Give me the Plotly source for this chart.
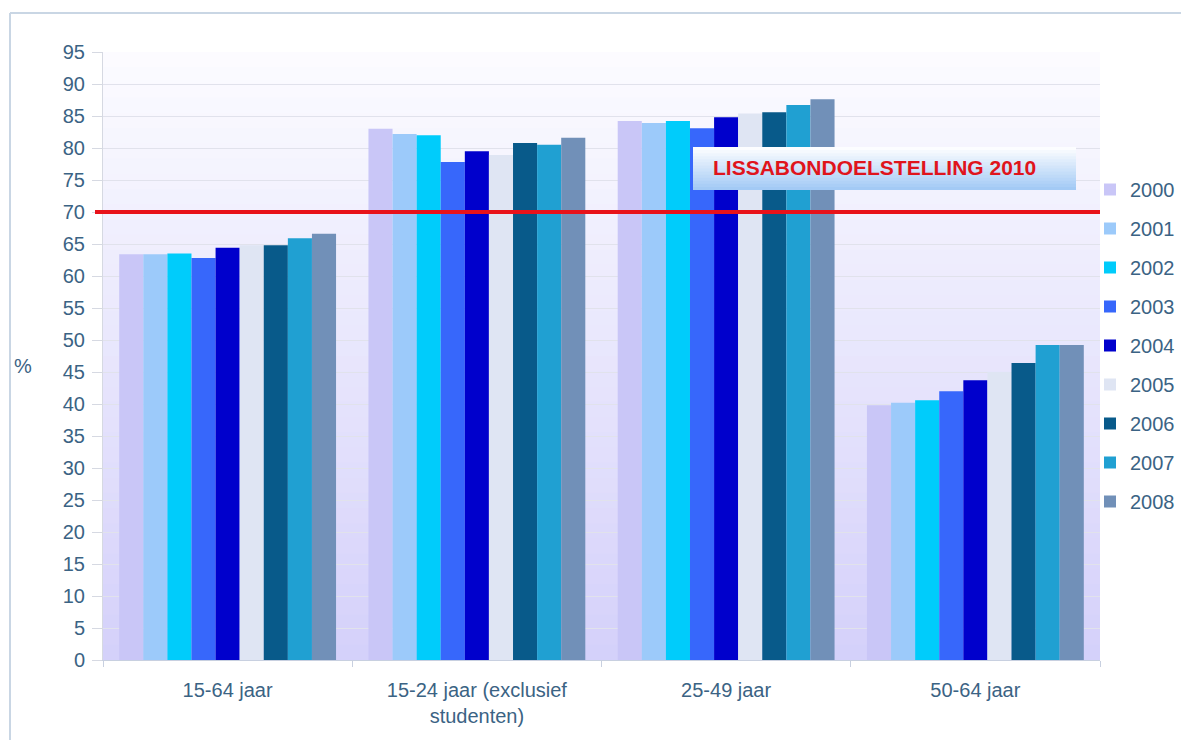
import plotly.graph_objects as go

categories = ["15-64 jaar", "15-24 jaar (exclusief<br>studenten)", "25-49 jaar", "50-64 jaar"]
years = ["2000", "2001", "2002", "2003", "2004", "2005", "2006", "2007", "2008"]
values = {
    "2000": [63.4, 83.0, 84.2, 39.8],
    "2001": [63.4, 82.2, 83.9, 40.2],
    "2002": [63.5, 82.0, 84.2, 40.6],
    "2003": [62.8, 77.8, 83.1, 42.0],
    "2004": [64.4, 79.5, 84.8, 43.7],
    "2005": [64.8, 78.9, 85.4, 45.0],
    "2006": [64.8, 80.8, 85.6, 46.4],
    "2007": [65.9, 80.5, 86.7, 49.2],
    "2008": [66.6, 81.6, 87.6, 49.2],
}
colors = ["#c9c6f7", "#9ccafa", "#00ccfb", "#3767fb", "#0000cc",
          "#dfe5f3", "#085a8a", "#20a0d2", "#7190b8"]
target = 70
target_label = "LISSABONDOELSTELLING 2010"

FONT = "Liberation Sans, Arial, sans-serif"
TXT = "#3b6384"
FS = 20

fig = go.Figure()
for i, y in enumerate(years):
    fig.add_trace(go.Bar(
        x=categories, y=values[y], name=y,
        marker=dict(color=colors[i], line=dict(width=0)),
        legendgroup=y,
    ))

W, H = 1181, 740
L, R, T, B = 103, 1100, 52, 660
def px(xp):
    return (xp - L) / (R - L)
def py(yp):
    return (B - yp) / (B - T)

shapes = []
# background gradient (white top -> lavender bottom)
n = 40
top_c = (252, 252, 255)
bot_c = (212, 208, 250)
for k in range(n):
    t = (k + 0.5) / n
    c = tuple(int(round(top_c[j] + (bot_c[j] - top_c[j]) * t)) for j in range(3))
    shapes.append(dict(type="rect", xref="paper", yref="paper",
                       x0=0, x1=1, y0=max(0, 1 - (k + 1.6) / n), y1=1 - k / n,
                       fillcolor="rgb(%d,%d,%d)" % c, line=dict(width=0), layer="below"))

# outer frame
shapes.append(dict(type="line", xref="paper", yref="paper",
                   x0=px(10), x1=px(10), y0=py(13), y1=py(745),
                   line=dict(color="#c9d6e4", width=2)))
shapes.append(dict(type="line", xref="paper", yref="paper",
                   x0=px(10), x1=px(1190), y0=py(13), y1=py(13),
                   line=dict(color="#c9d6e4", width=2)))

# target line
shapes.append(dict(type="line", xref="paper", yref="y",
                   x0=px(95), x1=1.0, y0=target, y1=target,
                   line=dict(color="#e8121a", width=4), layer="above"))

# label box with gradient
bx0, bx1, by0, by1 = 693, 1076, 147, 190
m = 14
c1 = (255, 255, 255)
c2 = (160, 200, 245)
for k in range(m):
    t = (k + 0.5) / m
    c = tuple(int(round(c1[j] + (c2[j] - c1[j]) * t)) for j in range(3))
    ya = by0 + (by1 - by0) * k / m
    yb = min(by1, by0 + (by1 - by0) * (k + 1.7) / m)
    shapes.append(dict(type="rect", xref="paper", yref="paper",
                       x0=px(bx0), x1=px(bx1), y0=py(yb), y1=py(ya),
                       fillcolor="rgb(%d,%d,%d)" % c, line=dict(width=0), layer="above"))

fig.update_layout(
    shapes=shapes,
    width=W, height=H,
    margin=dict(l=L, r=W - R, t=T, b=H - B, pad=0, autoexpand=False),
    paper_bgcolor="white",
    plot_bgcolor="rgba(0,0,0,0)",
    barmode="group", bargap=0.13, bargroupgap=0,
    font=dict(family=FONT, size=FS, color=TXT),
    legend=dict(xref="container", yref="container",
                x=1090 / W, xanchor="left", y=1 - 170 / H, yanchor="top",
                font=dict(size=FS, color=TXT), tracegroupgap=10,
                traceorder="grouped", itemwidth=30, bgcolor="rgba(0,0,0,0)"),
    annotations=[
        dict(text="%", xref="paper", yref="paper", x=px(12), y=py(366),
             xanchor="left", showarrow=False, font=dict(size=FS, color=TXT)),
        dict(text="<b>" + target_label + "</b>", xref="paper", yref="paper",
             x=px(711), y=py(167), xanchor="left", yanchor="middle",
             showarrow=False, font=dict(size=21, color="#e0141c")),
    ],
)
fig.update_yaxes(range=[0, 95], dtick=5, tick0=0, showgrid=True,
                 gridcolor="#e1e2ec", gridwidth=1, ticks="outside", ticklen=10,
                 tickcolor="#d6d9e2", showline=True, linecolor="#d6d9e2",
                 zeroline=False, ticklabelstandoff=3,
                 tickfont=dict(size=FS, color=TXT))
fig.update_xaxes(showline=True, linecolor="#c8d0e0", ticks="outside",
                 tickson="boundaries", ticklen=6, tickcolor="#c8d0e0",
                 showgrid=False, ticklabelstandoff=12,
                 tickfont=dict(size=FS, color=TXT))

fig.write_html("out.html")
